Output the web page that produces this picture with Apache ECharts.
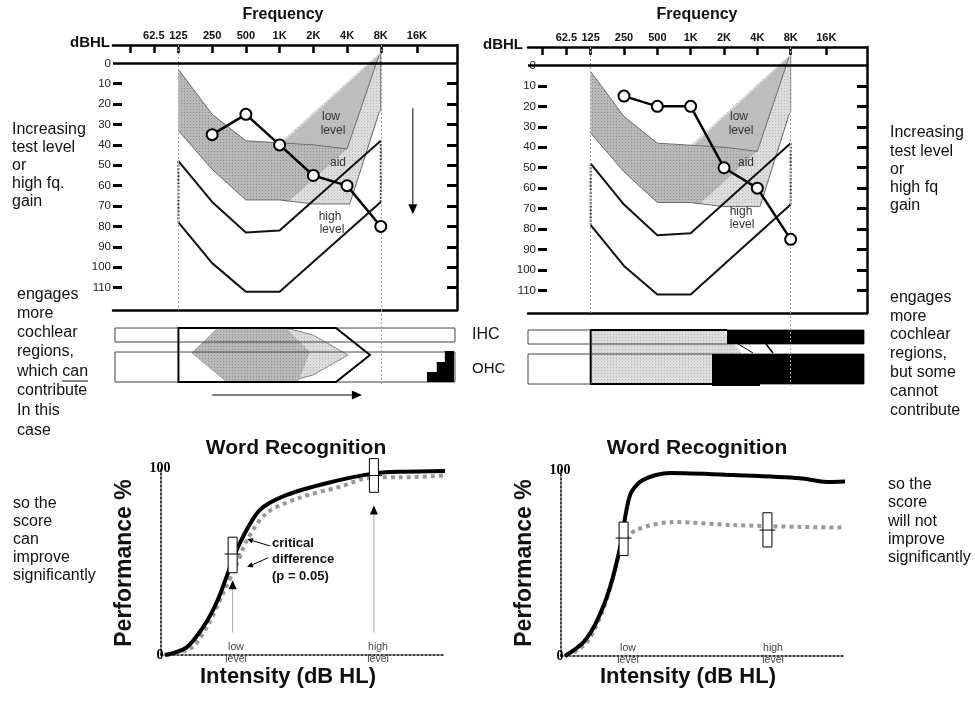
<!DOCTYPE html>
<html>
<head>
<meta charset="utf-8">
<script src="https://cdn.jsdelivr.net/npm/echarts@6/dist/echarts.min.js"></script>
<style>
  html, body { margin: 0; padding: 0; background: #fff; }
  #chart { width: 975px; height: 701px; }
</style>
</head>
<body>
<div id="chart"></div>
<script>
// audiogram: x = octave index (125 Hz = 2 ... 8 kHz = 8), y = dB HL
const freqTicks = [0.56, 1.27, 2, 3, 4, 5, 6, 7, 8, 9.07];
const freqLabels = ['', '62.5', '125', '250', '500', '1K', '2K', '4K', '8K', '16K'];
const dbLabels = [0, 10, 20, 30, 40, 50, 60, 70, 80, 90, 100, 110];
const dbTicks = [10, 20, 30, 40, 50, 60, 70, 80, 90, 100, 110];
const refFreqs = [2, 8];

const testFreqs = [3, 4, 5, 6, 7, 8];
const thresholdLeft = [35, 25, 40, 55, 60, 80];
const thresholdRight = [15, 20, 20, 50, 60, 85];

// low level speech region (aided), unaided part and the aid gain
const speechOuter = [[2, 3], [3, 25], [4, 38], [5, 39], [7.95, -5], [8, -5], [8, 23], [7.08, 69], [6, 69], [5, 67], [4, 67], [3, 52], [2, 33]];
const speechUnaided = [[2, 3], [3, 25], [4, 38], [5, 39], [6, 40], [7, 42], [5.25, 68], [5, 67], [4, 67], [3, 52], [2, 33]];
const aidGain = [[5.1, 39], [7.95, -4], [7, 42]];
const speechUpper = [[2, 3], [3, 25], [4, 38], [5, 39], [6, 40], [7, 42], [7.95, -4]];
const speechLower = [[2, 33], [3, 52], [4, 67], [5, 67], [6, 69], [7.08, 69], [7.95, 24], [8, 23], [8, -5]];
// high level region
const highUpper = [[2, 48], [3, 68], [4, 83], [5, 82], [8, 38]];
const highLower = [[2, 78], [3, 98], [4, 112], [5, 112], [8, 68]];
const highEdges = [[[2, 48], [2, 78]], [[8, 38], [8, 68]]];
const levelArrow = [[8.95, 22, 8.95, 74]];

// cochlea strips (same x scale, y = rows)
const barSpan = [0.12, 10.2];
const ihcRow = [18, 32];
const ohcRow = [42, 72];
const leftEngaged = [[2, 18], [6.67, 18], [7.68, 45], [6.67, 72], [2, 72]];
const leftExcitation = [[3.14, 19], [5.31, 19], [5.99, 25], [7.03, 45], [5.99, 65], [5.22, 72], [3.44, 72], [2.41, 43]];
const leftExcitationCore = [[3.14, 19], [5.22, 19], [5.9, 42], [5.55, 72], [3.44, 72], [2.41, 43]];
const leftDead = [[9.37, 72], [9.37, 62], [9.66, 62], [9.66, 52], [9.9, 52], [9.9, 41], [10.17, 41], [10.17, 72]];
const leftShift = [[3.0, 85, 7.44, 85]];
const rightEngaged = [[2, 18], [5.97, 18], [6.55, 42], [5.64, 42], [5.64, 72], [2, 72]];
const rightDeadIhc = [[6.09, 18], [10.2, 18], [10.2, 32], [6.09, 32]];
const rightDeadOhc = [[5.64, 42], [10.2, 42], [10.2, 72], [7.08, 72], [7.08, 74], [5.64, 74]];
const rightEdge = [[6.09, 18], [2, 18], [2, 72], [5.64, 72]];
const rightTears = [[[6.42, 32], [6.87, 41]], [[7.26, 32], [7.47, 41]]];

// word recognition: x = intensity (0-100), y = performance %
const wrLeftSolid = [[1.4, 0], [9, 4], [15, 15], [20, 29], [24.5, 47], [28, 60], [35, 77.5], [44.6, 85.6], [59, 92], [75, 97], [85, 98], [103.5, 98.5]];
const wrLeftDotted = [[2, 0], [11, 4], [17, 17], [22, 33], [27, 49], [30.5, 61.5], [37.5, 76], [49, 84], [63.5, 90], [75, 95], [85, 95], [101, 96]];
const wrRightSolid = [[1.4, 0], [8, 7.5], [12.8, 19], [17.4, 37], [21, 58.6], [24.5, 86.6], [29, 94.6], [38.7, 98.4], [61, 97.3], [84.8, 95.6], [94.3, 93.6], [104, 94]];
const wrRightDotted = [[2, 0], [9, 7], [15, 25], [19, 46], [22, 61], [27, 68], [39.7, 72], [61, 70.4], [84.8, 69.4], [103.5, 69]];
// boxes: x, low, high, mean
const wrLeftBoxes = [[25.4, 44, 63, 54], [75.5, 87, 105, 96]];
const wrRightBoxes = [[22.2, 54, 72, 63.4], [73.2, 58.6, 77, 67.7]];
const wrLeftPointers = [[25.4, 12, 25.4, 40], [75.5, 12, 75.5, 80]];
const wrLeftNotes = [[38.7, 58.3, 30.5, 62], [38, 52, 30.5, 47]];

const FONT = '"Liberation Sans", Arial, sans-serif';

function dotFill(bg, dot) {
  const c = document.createElement('canvas');
  c.width = 3; c.height = 3;
  const g = c.getContext('2d');
  g.fillStyle = bg; g.fillRect(0, 0, 3, 3);
  g.fillStyle = dot; g.fillRect(1, 1, 1, 1);
  return { image: c, repeat: 'repeat' };
}
const darkDots = dotFill('#b9b9b9', '#8e8e8e');
const lightDots = dotFill('#dcdcdc', '#b8b8b8');

function rect(x0, x1, y0, y1) { return [[x0, y0], [x1, y0], [x1, y1], [x0, y1]]; }

function polygon(ax, pts, style, z) {
  return {
    type: 'custom', xAxisIndex: ax, yAxisIndex: ax, data: pts, z: z, silent: true,
    renderItem: function (params, api) {
      if (params.dataIndex !== 0) return null;
      return { type: 'polygon', shape: { points: pts.map(p => api.coord(p)) }, style: style };
    }
  };
}

function line(ax, pts, color, width, type, z) {
  return {
    type: 'line', xAxisIndex: ax, yAxisIndex: ax, data: pts, symbol: 'none', z: z, silent: true,
    lineStyle: { color: color, width: width, type: type || 'solid' }, animation: false
  };
}

function arrows(ax, rows, color, head, z) {
  return {
    type: 'custom', xAxisIndex: ax, yAxisIndex: ax, data: rows, z: z, silent: true,
    renderItem: function (params, api) {
      const a = api.coord([api.value(0), api.value(1)]);
      const b = api.coord([api.value(2), api.value(3)]);
      const dx = b[0] - a[0], dy = b[1] - a[1], len = Math.hypot(dx, dy);
      const ux = dx / len, uy = dy / len, w = head * 0.45;
      const base = [b[0] - ux * head, b[1] - uy * head];
      return {
        type: 'group', children: [
          { type: 'line', shape: { x1: a[0], y1: a[1], x2: base[0], y2: base[1] }, style: { stroke: color, lineWidth: 1 } },
          { type: 'polygon', shape: { points: [b, [base[0] - uy * w, base[1] + ux * w], [base[0] + uy * w, base[1] - ux * w]] }, style: { fill: '#000' } }
        ]
      };
    }
  };
}

function boxes(ax, rows) {
  return {
    type: 'custom', xAxisIndex: ax, yAxisIndex: ax, data: rows, z: 6, silent: true,
    renderItem: function (params, api) {
      const top = api.coord([api.value(0), api.value(2)]);
      const bot = api.coord([api.value(0), api.value(1)]);
      const mid = api.coord([api.value(0), api.value(3)]);
      return {
        type: 'group', children: [
          { type: 'rect', shape: { x: top[0] - 4.5, y: top[1], width: 9, height: bot[1] - top[1] }, style: { fill: '#fff', stroke: '#000', lineWidth: 1 } },
          { type: 'line', shape: { x1: mid[0] - 8, y1: mid[1], x2: mid[0] + 8, y2: mid[1] }, style: { stroke: '#000', lineWidth: 1 } }
        ]
      };
    }
  };
}

function audiogramSeries(ax, threshold, withArrow) {
  const s = [
    polygon(ax, speechOuter, { fill: lightDots }, 1),
    polygon(ax, speechUnaided, { fill: darkDots }, 1),
    polygon(ax, aidGain, { fill: '#bdbdbd' }, 1),
    line(ax, speechUpper, '#6e6e6e', 1, 'solid', 2),
    line(ax, speechLower, '#6e6e6e', 1, 'solid', 2),
    {
      type: 'line', xAxisIndex: ax, yAxisIndex: ax, data: [], z: 2, silent: true,
      markLine: {
        silent: true, symbol: 'none', label: { show: false }, animation: false,
        data: [
          { xAxis: refFreqs[0], lineStyle: { color: '#a8a8a8', width: 1, type: [2, 2] } },
          { xAxis: refFreqs[1], lineStyle: { color: '#a8a8a8', width: 1, type: [2, 2] } },
          { yAxis: 0, lineStyle: { color: '#000', width: 2.5, type: 'solid' } }
        ]
      }
    },
    line(ax, highUpper, '#111', 2, 'solid', 3),
    line(ax, highLower, '#111', 2, 'solid', 3),
    line(ax, highEdges[0], '#333', 2, [2, 1.5], 3),
    line(ax, highEdges[1], '#333', 2, [2, 1.5], 3),
    {
      type: 'line', xAxisIndex: ax, yAxisIndex: ax, z: 5, silent: true, animation: false,
      data: testFreqs.map((f, i) => [f, threshold[i]]),
      symbol: 'circle', symbolSize: 11,
      itemStyle: { color: '#fff', borderColor: '#000', borderWidth: 2 },
      lineStyle: { color: '#000', width: 2.5 }
    }
  ];
  if (withArrow) s.push(arrows(ax, levelArrow, '#000', 10, 5));
  return s;
}

function freqAxis(g, min, max) {
  return {
    type: 'value', gridIndex: g, position: 'top', min: min, max: max,
    axisLine: { show: true, onZero: false, lineStyle: { color: '#000', width: 2.5 } },
    axisTick: { show: true, inside: true, length: 8, customValues: freqTicks, lineStyle: { color: '#000', width: 2.5 } },
    axisLabel: {
      show: true, customValues: freqTicks.slice(1), margin: 4,
      formatter: v => freqLabels[freqTicks.indexOf(v)],
      color: '#111', fontFamily: FONT, fontWeight: 'bold', fontSize: 11
    },
    splitLine: { show: false }
  };
}
function frameAxisX(g, min, max) {
  return {
    type: 'value', gridIndex: g, position: 'bottom', min: min, max: max,
    axisLine: { show: true, onZero: false, lineStyle: { color: '#000', width: 2.5 } },
    axisTick: { show: false }, axisLabel: { show: false }, splitLine: { show: false }
  };
}
function dbAxis(g, offset) {
  return {
    type: 'value', gridIndex: g, position: 'left', inverse: true, min: -9, max: 121, offset: offset,
    axisLine: { show: false, onZero: false },
    axisTick: { show: true, inside: true, length: 9, customValues: dbTicks, lineStyle: { color: '#000', width: 3 } },
    axisLabel: { show: true, customValues: dbLabels, margin: 2, color: '#222', fontFamily: FONT, fontSize: 11.5 },
    splitLine: { show: false }
  };
}
function frameAxisY(g) {
  return {
    type: 'value', gridIndex: g, position: 'right', inverse: true, min: -9, max: 121,
    axisLine: { show: true, onZero: false, lineStyle: { color: '#000', width: 2.5 } },
    axisTick: { show: true, inside: true, length: 10, customValues: dbTicks, lineStyle: { color: '#000', width: 3 } },
    axisLabel: { show: false }, splitLine: { show: false }
  };
}
function hiddenAxis(g, min, max, inverse) {
  return { type: 'value', gridIndex: g, min: min, max: max, inverse: !!inverse, show: false, splitLine: { show: false } };
}
function wrAxisX(g) {
  return {
    type: 'value', gridIndex: g, min: 0, max: 100,
    axisLine: { show: true, onZero: false, lineStyle: { color: '#000', width: 1.5, type: [2, 2] } },
    axisTick: { show: false }, axisLabel: { show: false }, splitLine: { show: false }
  };
}
function wrAxisY(g) {
  return {
    type: 'value', gridIndex: g, min: 0, max: 100,
    axisLine: { show: true, onZero: false, lineStyle: { color: '#000', width: 1.5, type: [2, 2] } },
    axisTick: { show: false },
    axisLabel: {
      show: true, customValues: [0, 100], align: 'center', margin: 1,
      fontFamily: '"Liberation Serif", "DejaVu Serif", serif', fontWeight: 'bold', fontSize: 14, color: '#000'
    },
    splitLine: { show: false }
  };
}

function wrSeries(ax, solid, dotted, boxRows) {
  return [
    {
      type: 'line', xAxisIndex: ax, yAxisIndex: ax, data: dotted, symbol: 'none', smooth: 0.3, clip: false, z: 3,
      silent: true, animation: false, lineStyle: { color: '#999', width: 4, type: [4, 4] }
    },
    {
      type: 'line', xAxisIndex: ax, yAxisIndex: ax, data: solid, symbol: 'none', smooth: 0.3, clip: false, z: 4,
      silent: true, animation: false, lineStyle: { color: '#000', width: 4 }
    },
    boxes(ax, boxRows)
  ];
}

function txt(text, x, y, font, align, fill) {
  return {
    type: 'text', x: x, y: y, z: 100, silent: true,
    style: { text: text, font: font, fill: fill || '#111', align: align || 'left', verticalAlign: 'middle', textAlign: align || 'left', textVerticalAlign: 'middle' }
  };
}

const side = '16px ' + FONT;
const graphics = [];
[['Increasing', 130], ['test level', 148], ['or', 166], ['high fq.', 184], ['gain', 202]].forEach(t => graphics.push(txt(t[0], 12, t[1], side)));
[['engages', 295], ['more', 314], ['cochlear', 333], ['regions,', 352], ['which can', 372], ['contribute', 391], ['In this', 411], ['case', 431]].forEach(t => graphics.push(txt(t[0], 17, t[1], side)));
[['so the', 504], ['score', 522], ['can', 540], ['improve', 558], ['significantly', 576]].forEach(t => graphics.push(txt(t[0], 13, t[1], side)));
[['Increasing', 133], ['test level', 152], ['or', 170], ['high fq', 188], ['gain', 206]].forEach(t => graphics.push(txt(t[0], 890, t[1], side)));
[['engages', 298], ['more', 317], ['cochlear', 335], ['regions,', 354], ['but some', 373], ['cannot', 392], ['contribute', 411]].forEach(t => graphics.push(txt(t[0], 890, t[1], side)));
[['so the', 485], ['score', 503], ['will not', 522], ['improve', 540], ['significantly', 558]].forEach(t => graphics.push(txt(t[0], 888, t[1], side)));
graphics.push({ type: 'line', z: 100, silent: true, shape: { x1: 62, y1: 381, x2: 88, y2: 381 }, style: { stroke: '#111', lineWidth: 1 } });

graphics.push(txt('Frequency', 283, 15, 'bold 16px ' + FONT, 'center'));
graphics.push(txt('Frequency', 697, 15, 'bold 16px ' + FONT, 'center'));
graphics.push(txt('dBHL', 110, 43, 'bold 15px ' + FONT, 'right'));
graphics.push(txt('dBHL', 523, 45, 'bold 15px ' + FONT, 'right'));
const inner = '12px ' + FONT;
[['low', 331, 117], ['level', 333, 131], ['aid', 338, 163], ['high', 330, 217], ['level', 332, 230],
 ['low', 739, 117], ['level', 741, 131], ['aid', 746, 163], ['high', 741, 212], ['level', 742, 225]]
  .forEach(t => graphics.push(txt(t[0], t[1], t[2], inner, 'center', '#333')));
graphics.push(txt('IHC', 472, 335, '16px ' + FONT));
graphics.push(txt('OHC', 472, 369, '15px ' + FONT));

graphics.push(txt('Word Recognition', 296, 448, 'bold 21px ' + FONT, 'center'));
graphics.push(txt('Word Recognition', 697, 448, 'bold 21px ' + FONT, 'center'));
graphics.push(txt('Intensity (dB HL)', 288, 677, 'bold 22px ' + FONT, 'center'));
graphics.push(txt('Intensity (dB HL)', 688, 677, 'bold 22px ' + FONT, 'center'));
[[125, 563], [525, 563]].forEach(p => {
  const t = txt('Performance %', p[0], p[1], 'bold 23px ' + FONT, 'center');
  t.rotation = Math.PI / 2;
  graphics.push(t);
});
[['critical', 543], ['difference', 559], ['(p = 0.05)', 576]].forEach(t => graphics.push(txt(t[0], 272, t[1], 'bold 13px ' + FONT)));
const small = '10.5px ' + FONT;
[['low', 236, 647], ['level', 236, 659], ['high', 378, 647], ['level', 378, 659],
 ['low', 628, 648], ['level', 628, 660], ['high', 773, 648], ['level', 773, 660]]
  .forEach(t => graphics.push(txt(t[0], t[1], t[2], small, 'center', '#444')));

const refMark = {
  type: 'line', data: [], z: 1, silent: true,
  markLine: {
    silent: true, symbol: 'none', label: { show: false }, animation: false,
    lineStyle: { color: '#a8a8a8', width: 1, type: [2, 2] },
    data: [{ xAxis: refFreqs[1] }]
  }
};

const series = [].concat(
  audiogramSeries(0, thresholdLeft, true),
  audiogramSeries(1, thresholdRight, false),
  // left cochlea
  [
    polygon(2, rect(barSpan[0], barSpan[1], ihcRow[0], ihcRow[1]), { fill: '#fff' }, 0),
    polygon(2, rect(barSpan[0], barSpan[1], ohcRow[0], ohcRow[1]), { fill: '#fff' }, 0),
    Object.assign({}, refMark, { xAxisIndex: 2, yAxisIndex: 2 }),
    polygon(2, leftExcitation, { fill: lightDots, stroke: '#888', lineWidth: 1 }, 2),
    polygon(2, leftExcitationCore, { fill: darkDots }, 2),
    polygon(2, rect(barSpan[0], barSpan[1], ihcRow[0], ihcRow[1]), { fill: 'none', stroke: '#444', lineWidth: 1 }, 3),
    polygon(2, rect(barSpan[0], barSpan[1], ohcRow[0], ohcRow[1]), { fill: 'none', stroke: '#444', lineWidth: 1 }, 3),
    polygon(2, leftEngaged, { fill: 'none', stroke: '#000', lineWidth: 2 }, 4),
    polygon(2, leftDead, { fill: '#000' }, 4),
    arrows(2, leftShift, '#000', 10, 4)
  ],
  // right cochlea
  [
    polygon(3, rect(barSpan[0], barSpan[1], ihcRow[0], ihcRow[1]), { fill: '#fff' }, 0),
    polygon(3, rect(barSpan[0], barSpan[1], ohcRow[0], ohcRow[1]), { fill: '#fff' }, 0),
    Object.assign({}, refMark, { xAxisIndex: 3, yAxisIndex: 3 }),
    polygon(3, rightEngaged, { fill: lightDots }, 2),
    polygon(3, rect(barSpan[0], barSpan[1], ihcRow[0], ihcRow[1]), { fill: 'none', stroke: '#444', lineWidth: 1 }, 3),
    polygon(3, rect(barSpan[0], barSpan[1], ohcRow[0], ohcRow[1]), { fill: 'none', stroke: '#444', lineWidth: 1 }, 3),
    polygon(3, rightDeadIhc, { fill: '#000' }, 4),
    polygon(3, rightDeadOhc, { fill: '#000' }, 4),
    line(3, rightEdge, '#000', 2, 'solid', 4),
    line(3, rightTears[0], '#000', 1, 'solid', 4),
    line(3, rightTears[1], '#000', 1.5, 'solid', 4)
  ],
  wrSeries(4, wrLeftSolid, wrLeftDotted, wrLeftBoxes),
  [arrows(4, wrLeftPointers, '#aaa', 9, 5), arrows(4, wrLeftNotes, '#000', 6, 5)],
  wrSeries(5, wrRightSolid, wrRightDotted, wrRightBoxes)
);

const option = {
  animation: false,
  backgroundColor: '#fff',
  grid: [
    { left: 113, top: 45, width: 344, height: 265 },
    { left: 528, top: 47, width: 339, height: 266 },
    { left: 113, top: 310, width: 344, height: 75 },
    { left: 528, top: 312, width: 339, height: 75 },
    { left: 161, top: 468, width: 282, height: 187 },
    { left: 561, top: 470, width: 282, height: 186 }
  ],
  xAxis: [
    freqAxis(0, 0.06, 10.26),
    freqAxis(1, 0.12, 10.29),
    hiddenAxis(2, 0.06, 10.26),
    hiddenAxis(3, 0.12, 10.29),
    wrAxisX(4),
    wrAxisX(5),
    frameAxisX(0, 0.06, 10.26),
    frameAxisX(1, 0.12, 10.29)
  ],
  yAxis: [
    dbAxis(0, 0),
    dbAxis(1, -10),
    hiddenAxis(2, 0, 75, true),
    hiddenAxis(3, 0, 75, true),
    wrAxisY(4),
    wrAxisY(5),
    frameAxisY(0),
    frameAxisY(1)
  ],
  graphic: { elements: graphics },
  series: series
};

const chart = echarts.init(document.getElementById('chart'));
chart.setOption(option);
</script>
</body>
</html>
